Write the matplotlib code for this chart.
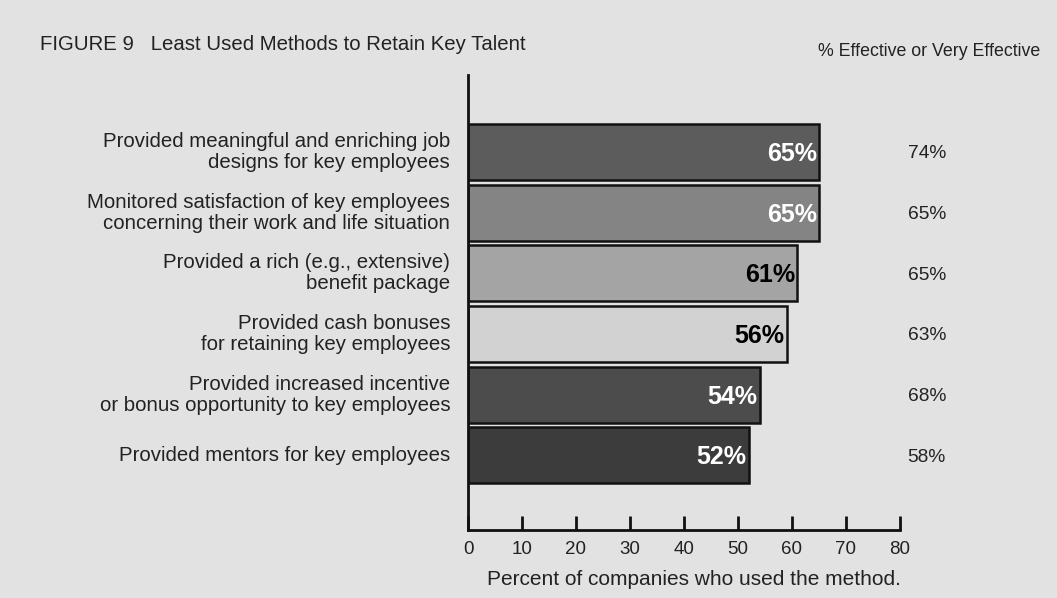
import matplotlib
matplotlib.use("Agg")
import matplotlib.pyplot as plt

categories = [
    "Provided meaningful and enriching job\ndesigns for key employees",
    "Monitored satisfaction of key employees\nconcerning their work and life situation",
    "Provided a rich (e.g., extensive)\nbenefit package",
    "Provided cash bonuses\nfor retaining key employees",
    "Provided increased incentive\nor bonus opportunity to key employees",
    "Provided mentors for key employees",
]
bar_lengths = [65, 65, 61, 59, 54, 52]          # as drawn in the picture
used_labels = ["65%", "65%", "61%", "56%", "54%", "52%"]
effective_pct = [74, 65, 65, 63, 68, 58]
bar_colors = ["#5c5c5c", "#848484", "#a4a4a4", "#d2d2d2", "#4c4c4c", "#3c3c3c"]
value_colors = ["white", "white", "black", "black", "white", "white"]
xticks = [0, 10, 20, 30, 40, 50, 60, 70, 80]

plt.rcParams['font.family'] = ['Liberation Sans', 'DejaVu Sans']
bg = "#e2e2e2"
fig = plt.figure(figsize=(10.57, 5.98), dpi=100, facecolor=bg)
ax = fig.add_axes([468/1057, 1-530/598, (900-468)/1057, (530-75)/598])
ax.set_facecolor(bg)

ypos = list(range(len(categories)))
ax.barh(ypos, bar_lengths, height=0.92, color=bar_colors, edgecolor="#111111", linewidth=1.8)
ax.set_ylim(5 + 1.23, -1.27)
ax.set_xlim(0, 80)

for y, v, lab, c in zip(ypos, bar_lengths, used_labels, value_colors):
    ax.text(v - 0.4, y + 0.03, lab, ha="right", va="center", color=c,
            fontsize=18, fontweight="bold")
for y, v in zip(ypos, effective_pct):
    ax.text(81.4, y + 0.03, f"{v}%", ha="left", va="center", color="#222222",
            fontsize=13.8, clip_on=False)
for y, lab in zip(ypos, categories):
    ax.text(-3.3, y, lab, ha="right", va="center", color="#222222",
            fontsize=14.7, linespacing=1.12, clip_on=False)

for s in ["top", "right"]:
    ax.spines[s].set_visible(False)
for s in ["left", "bottom"]:
    ax.spines[s].set_linewidth(2)
    ax.spines[s].set_color("#111111")
ax.set_yticks([])
ax.set_xticks(xticks)
ax.tick_params(axis="x", direction="in", length=10, width=2, color="#111111",
               labelsize=13.5, pad=8, labelcolor="#222222")
ax.set_xlabel("Percent of companies who used the method.", fontsize=15,
              color="#222222", labelpad=8)
ax.xaxis.set_label_coords(0.522, -0.088, transform=ax.transAxes)

fig.text(40/1057, 1-45/598, "FIGURE 9   Least Used Methods to Retain Key Talent",
         fontsize=14.7, color="#222222", va="center", ha="left")
fig.text(1040/1057, 1-52/598, "% Effective or Very Effective", fontsize=12.8,
         color="#222222", va="center", ha="right")

fig.savefig("out.png", dpi=100, facecolor=bg)
